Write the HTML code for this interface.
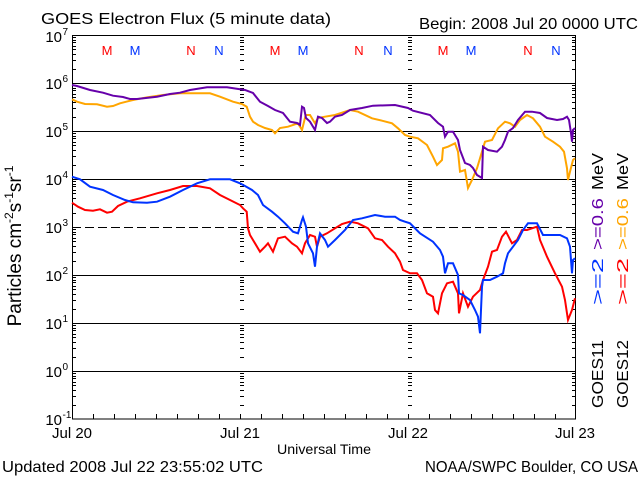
<!DOCTYPE html>
<html><head><meta charset="utf-8"><style>
html,body{margin:0;padding:0;background:#fff;}
svg{display:block;font-family:"Liberation Sans",sans-serif;}
</style></head><body>
<svg width="640" height="480" viewBox="0 0 640 480" xmlns="http://www.w3.org/2000/svg">
<defs>
<path id="dl" d="M0 -13.5h4M0 -22.5h4M0 -28.5h4M0 -33.5h4M0 -36.5h4M0 -40.5h4M0 -42.5h4M0 -45.5h4" stroke="#000" stroke-width="1" fill="none"/>
<path id="dr" d="M0 -13.5h-4M0 -22.5h-4M0 -28.5h-4M0 -33.5h-4M0 -36.5h-4M0 -40.5h-4M0 -42.5h-4M0 -45.5h-4" stroke="#000" stroke-width="1" fill="none"/>
</defs>
<rect width="640" height="480" fill="#fff"/>

<!-- titles -->
<text x="41" y="24" font-size="16" textLength="290" lengthAdjust="spacingAndGlyphs">GOES Electron Flux (5 minute data)</text>
<text x="419" y="29" font-size="16" textLength="219" lengthAdjust="spacingAndGlyphs">Begin: 2008 Jul 20 0000 UTC</text>

<!-- grid lines -->
<g stroke="#000" stroke-width="1" fill="none">
<path d="M72 83.5H576M72 131.5H576M72 179.5H576M72 275.5H576M72 323.5H576M72 371.5H576"/>
<path d="M72 227.5H576" stroke-dasharray="9,4"/>
<rect x="72.5" y="35.5" width="503" height="383.5"/>
<path d="M93.5 419v-5M114.5 419v-5M135.5 419v-5M156.5 419v-5M177.5 419v-5M198.5 419v-5M219.5 419v-5M240.5 419v-5M261.5 419v-5M282.5 419v-5M303.5 419v-5M324.5 419v-5M345.5 419v-5M366.5 419v-5M387.5 419v-5M408.5 419v-5M429.5 419v-5M450.5 419v-5M471.5 419v-5M492.5 419v-5M513.5 419v-5M534.5 419v-5M555.5 419v-5"/>
</g>

<!-- minor ticks: left axis -->
<g>
<use href="#dl" x="72" y="419"/><use href="#dl" x="72" y="371"/><use href="#dl" x="72" y="323"/><use href="#dl" x="72" y="275"/>
<use href="#dl" x="72" y="227"/><use href="#dl" x="72" y="179"/><use href="#dl" x="72" y="131"/><use href="#dl" x="72" y="83"/>
<use href="#dr" x="576" y="419"/><use href="#dr" x="576" y="371"/><use href="#dr" x="576" y="323"/><use href="#dr" x="576" y="275"/>
<use href="#dr" x="576" y="227"/><use href="#dr" x="576" y="179"/><use href="#dr" x="576" y="131"/><use href="#dr" x="576" y="83"/>
<use href="#dl" x="240" y="419"/><use href="#dl" x="240" y="371"/><use href="#dl" x="240" y="323"/><use href="#dl" x="240" y="275"/>
<use href="#dl" x="240" y="227"/><use href="#dl" x="240" y="179"/><use href="#dl" x="240" y="131"/><use href="#dl" x="240" y="83"/>
<use href="#dl" x="408" y="419"/><use href="#dl" x="408" y="371"/><use href="#dl" x="408" y="323"/><use href="#dl" x="408" y="275"/>
<use href="#dl" x="408" y="227"/><use href="#dl" x="408" y="179"/><use href="#dl" x="408" y="131"/><use href="#dl" x="408" y="83"/>
</g>

<!-- y tick labels -->
<g font-size="15" text-anchor="end">
<text x="62" y="42">10</text><text x="62" y="89">10</text><text x="62" y="137">10</text><text x="62" y="185">10</text>
<text x="62" y="233">10</text><text x="62" y="281">10</text><text x="62" y="329">10</text><text x="62" y="377">10</text>
<text x="62" y="425">10</text>
</g>
<g font-size="10">
<text x="62.5" y="35">7</text><text x="62.5" y="82">6</text><text x="62.5" y="130">5</text><text x="62.5" y="178">4</text>
<text x="62.5" y="226">3</text><text x="62.5" y="274">2</text><text x="62.5" y="322">1</text><text x="62.5" y="370">0</text>
<text x="62.5" y="418">-1</text>
</g>

<!-- x labels -->
<g font-size="15" text-anchor="middle">
<text x="72" y="438">Jul 20</text><text x="240" y="438">Jul 21</text><text x="408" y="438">Jul 22</text><text x="575" y="438">Jul 23</text>
</g>
<text x="324" y="454" font-size="14" text-anchor="middle" textLength="94" lengthAdjust="spacingAndGlyphs">Universal Time</text>
<text x="2" y="472" font-size="16" textLength="261" lengthAdjust="spacingAndGlyphs">Updated 2008 Jul 22 23:55:02 UTC</text>
<text x="425" y="472" font-size="16" textLength="213" lengthAdjust="spacingAndGlyphs">NOAA/SWPC Boulder, CO USA</text>

<!-- y axis title -->
<text transform="translate(21,246) rotate(-90)" font-size="19" text-anchor="middle">Particles cm<tspan font-size="12" dy="-8">-2</tspan><tspan dy="8">s</tspan><tspan font-size="12" dy="-8">-1</tspan><tspan dy="8">sr</tspan><tspan font-size="12" dy="-8">-1</tspan></text>

<!-- M / N markers -->
<g font-size="13" text-anchor="middle">
<text x="107" y="55" fill="#ff0000">M</text><text x="135" y="55" fill="#0033ff">M</text>
<text x="191" y="55" fill="#ff0000">N</text><text x="219" y="55" fill="#0033ff">N</text>
<text x="275" y="55" fill="#ff0000">M</text><text x="303" y="55" fill="#0033ff">M</text>
<text x="359" y="55" fill="#ff0000">N</text><text x="388" y="55" fill="#0033ff">N</text>
<text x="443" y="55" fill="#ff0000">M</text><text x="471" y="55" fill="#0033ff">M</text>
<text x="528" y="55" fill="#ff0000">N</text><text x="556" y="55" fill="#0033ff">N</text>
</g>

<!-- right legends -->
<g font-size="16">
<text transform="translate(603,408) rotate(-90)" textLength="68" lengthAdjust="spacingAndGlyphs">GOES11</text>
<text transform="translate(603,305) rotate(-90)" textLength="47" lengthAdjust="spacingAndGlyphs" fill="#0033ff">&gt;=2</text>
<text transform="translate(603,250) rotate(-90)" textLength="52" lengthAdjust="spacingAndGlyphs" fill="#6600aa">&gt;=0.6</text>
<text transform="translate(603,190) rotate(-90)" textLength="37" lengthAdjust="spacingAndGlyphs">MeV</text>
<text transform="translate(628,408) rotate(-90)" textLength="68" lengthAdjust="spacingAndGlyphs">GOES12</text>
<text transform="translate(628,305) rotate(-90)" textLength="47" lengthAdjust="spacingAndGlyphs" fill="#ff0000">&gt;=2</text>
<text transform="translate(628,250) rotate(-90)" textLength="52" lengthAdjust="spacingAndGlyphs" fill="#ffa500">&gt;=0.6</text>
<text transform="translate(628,190) rotate(-90)" textLength="37" lengthAdjust="spacingAndGlyphs">MeV</text>
</g>

<!-- data -->
<g fill="none" stroke-width="2" stroke-linejoin="miter">
<polyline stroke="#ffa500" points="72,99.3 77,101.7 85,104 97,104.3 107,106.7 113,106 120,103.3 133,100 147,97.3 163,95 180,93.3 210,93.3 220,96.7 233,101.7 242,104 246.7,106.7 250,116.7 253,121.7 258,125 265,128 272,130 275,133.3 280,128 288,126.7 298,123.3 302,130 305.7,115 310,115 315,123.3 318,118 325,116.7 335,115 345,111.7 350,110 358,111.7 372,118.3 382,120.7 392,123.3 398,128.3 405,135 410,136.7 418,138.3 427,145 433,156.7 437,165 442,160 443,148.3 448,146.7 455,143.3 458,151.7 460,171.7 465,170 468,188 472,180 477,168.3 480,158.3 485,141.7 492,140 498,128.3 505,121.7 510,123.3 515,126.7 520,120 527,115 533,118.3 540,126.7 545,136.7 553,141.7 560,146.7 564,151.7 567,168.3 568,180 570,171.7 573,160 575,158.3"/>
<polyline stroke="#6600aa" points="72,85 77,86 90,90 103,92.7 113,95.7 123,97 130,99 137,99 157,96.7 170,94 180,92.7 190,90 207,87.3 227,87.3 240,89.3 245,90 253,93 260,101.7 268,106 275,110 283,113 290,121.7 297,123 300,125 302,106.7 304,108 306,118 310,121.7 315,130 318,116.7 322,118 327,123 330,121.7 335,116.7 342,115 350,110 362,108 373,105.7 395,105 408,108 413,110.7 430,115 438,123 443,126.7 445,136.7 448,131.7 453,131.7 458,140 460,150 465,163 470,165 473,168 477,175 482,178 483,146.7 488,150 497,151.7 502,146.7 505,140 508,131.7 513,128 518,120 525,111.7 532,111.7 540,113 547,118 557,120 563,119 567,116.7 569,120 571,133 572,141.7 573,130 575,128"/>
<polyline stroke="#ff0000" points="72,202.7 78,206.7 85,210 93,210.7 100,209.3 107,212.7 112,211.7 118,206 127,201.7 140,198.3 157,193.3 170,190 183,186 197,186 210,188.3 220,195 230,200 240,205 243,208.3 246.7,211.7 248,228.3 250,235 255,243.3 260,251.7 265,246.7 268,243.3 273,251.7 278,238.3 285,236.7 292,243.3 297,246.7 302,253.3 305,243.3 310,235 315,236.7 317,246.7 320,236.7 327,233.3 335,228.3 342,224 350,221.7 358,223.3 368,228.3 375,238.3 382,240 388,246.7 395,253.3 400,261.7 403,270 410,273.3 417,273.3 422,280 427,293.3 433,296.7 435,310 438,313.3 442,293.3 447,283.3 453,281.7 458,293.3 459,313.3 463,293.3 468,306.7 473,296.7 480,290 483,280 488,266.7 492,251.7 497,250 502,236.7 506,231.7 512,243.3 517,240 522,230 527,230 532,228.3 537,226.7 540,240 547,256.7 555,273.3 562,286.7 565,300 568,320 572,310 575,298.3"/>
<polyline stroke="#0033ff" points="72,176.7 80,179.3 90,186.7 103,190 113,195 125,200 133,202.3 147,202.7 157,201.7 170,196.7 183,190 197,183.3 210,179.3 230,179.3 240,183.3 245,186 252,190 258,195 263,205 272,211.7 278,216.7 285,223.3 293,231.7 298,233.3 302,220 303,217.3 306,226.7 308,243.3 313,253.3 315,266.7 317,246.7 320,233.3 325,240 328,246.7 335,240 345,230 353,220 362,218.3 375,215 385,216.7 395,216.7 400,220 405,221.7 410,223.3 420,233.3 433,241.7 440,250 443,256.7 445,273.3 448,263.3 453,263.3 458,275 459,293.3 463,295 470,300 475,310 478,316.7 480,333.3 482,286.7 483,280 490,280 497,276.7 503,273.3 505,263.3 508,253.3 513,246.7 518,240 523,230 528,223.3 537,223.3 543,235 560,235 567,238.3 570,246.7 572,273.3 573,260 575,258.3"/>
</g>
</svg>
</body></html>
